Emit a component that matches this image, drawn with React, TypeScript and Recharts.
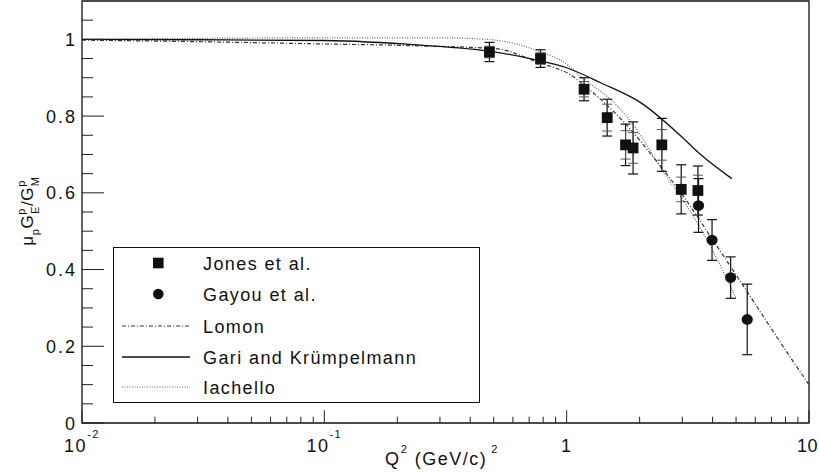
import React from 'react'
import {
  ComposedChart,
  Line,
  Scatter,
  ErrorBar,
  XAxis,
  YAxis,
  ReferenceArea,
} from 'recharts'

const FONT = '"Liberation Sans", Arial, Helvetica, sans-serif'

// Jones et al. (squares)
const jonesQ2 = [0.48, 0.78, 1.18, 1.47, 1.75, 1.88, 2.47, 2.97, 3.48]
const jonesRatio = [0.967, 0.95, 0.87, 0.796, 0.725, 0.717, 0.725, 0.609, 0.606]
const jonesErr = [0.025, 0.023, 0.03, 0.048, 0.054, 0.068, 0.069, 0.064, 0.064]
const jonesStat = [0.015, 0.015, 0.02, 0.035, 0.037, 0.04, 0.04, 0.032, 0.04]

// Gayou et al. (circles)
const gayouQ2 = [3.5, 3.98, 4.75, 5.56]
const gayouRatio = [0.567, 0.477, 0.379, 0.27]
const gayouErr = [0.07, 0.053, 0.054, 0.092]

// model curves
const gariQ2 = [0.01, 0.03, 0.1, 0.25, 0.47, 0.73, 1.0, 1.38, 2.02, 2.96, 3.55, 4.8]
const gariRatio = [1.0, 0.999, 0.997, 0.985, 0.97, 0.948, 0.926, 0.887, 0.835, 0.748, 0.701, 0.637]

const lomonQ2 = [0.01, 0.03, 0.1, 0.25, 0.52, 0.76, 1.04, 1.22, 1.73, 2.38, 3.0, 4.0, 5.15, 6.0, 8.0, 10]
const lomonRatio = [0.998, 0.994, 0.988, 0.983, 0.975, 0.94, 0.907, 0.873, 0.783, 0.678, 0.595, 0.478, 0.374, 0.31, 0.19, 0.1]

const iachelloQ2 = [0.01, 0.1, 0.3, 0.47, 0.6, 0.76, 1.0, 1.14, 1.62, 1.9, 2.52, 3.0, 4.0, 5.0]
const iachelloRatio = [1.0, 1.004, 1.004, 1.0, 0.99, 0.97, 0.935, 0.904, 0.826, 0.774, 0.652, 0.585, 0.45, 0.325]

const xTicks = [
  0.01, 0.02, 0.03, 0.04, 0.05, 0.06, 0.07, 0.08, 0.09,
  0.1, 0.2, 0.3, 0.4, 0.5, 0.6, 0.7, 0.8, 0.9,
  1, 2, 3, 4, 5, 6, 7, 8, 9, 10,
]
const xMajor = [0.01, 0.1, 1, 10]
const xLabels: Record<string, [string, string]> = {
  '0.01': ['10', '-2'],
  '0.1': ['10', '-1'],
  '1': ['1', ''],
  '10': ['10', ''],
}
const yTicks = [
  0, 0.05, 0.1, 0.15, 0.2, 0.25, 0.3, 0.35, 0.4, 0.45, 0.5,
  0.55, 0.6, 0.65, 0.7, 0.75, 0.8, 0.85, 0.9, 0.95, 1, 1.05,
]
const yMajor = [0, 0.2, 0.4, 0.6, 0.8, 1]
const yLabels = ['0', '0.2', '0.4', '0.6', '0.8', '1']

const legendNames = ['Jones et al.', 'Gayou et al.', 'Lomon', 'Gari and Krümpelmann', 'Iachello']

const jones = jonesQ2.map((q, i) => ({ q, r: jonesRatio[i], err: jonesErr[i], stat: jonesStat[i] }))
const gayou = gayouQ2.map((q, i) => ({ q, r: gayouRatio[i], err: gayouErr[i] }))
const gari = gariQ2.map((q, i) => ({ q, r: gariRatio[i] }))
const lomon = lomonQ2.map((q, i) => ({ q, r: lomonRatio[i] }))
const iachello = iachelloQ2.map((q, i) => ({ q, r: iachelloRatio[i] }))

function XTick({ x, y, payload }: any) {
  const v = payload.value
  const major = xMajor.includes(v)
  const lab = xLabels[String(v)]
  // the last label sits against the right edge of the page
  const last = v === 10
  return (
    <g>
      <line x1={x} y1={y} x2={x} y2={y - (major ? 12.7 : 6.3)} stroke="#222" strokeWidth={1} />
      {major && lab && (
        <text
          x={last ? 818 : x}
          y={y + 29}
          textAnchor={last ? 'end' : 'middle'}
          fontSize={18}
          fontFamily={FONT}
          fill="#111"
          letterSpacing={last ? 0.5 : 1.5}
        >
          {lab[0]}
          {lab[1] && (
            <tspan fontSize={11} dy={-14}>
              {lab[1]}
            </tspan>
          )}
        </text>
      )}
    </g>
  )
}

function YTick({ x, y, payload }: any) {
  const v = payload.value
  const idx = yMajor.findIndex((m) => Math.abs(m - v) < 1e-6)
  const major = idx >= 0
  return (
    <g>
      <line x1={x} y1={y} x2={x + (major ? 22 : 11)} y2={y} stroke="#222" strokeWidth={1} />
      {major && (
        <text x={x - 5} y={y + 6.5} textAnchor="end" fontSize={18} fontFamily={FONT} fill="#111" letterSpacing={2}>
          {yLabels[idx]}
        </text>
      )}
    </g>
  )
}

function XTitle() {
  return (
    <text x={442} y={465} textAnchor="middle" fontSize={18} fontFamily={FONT} fill="#111" letterSpacing={1.5}>
      Q
      <tspan fontSize={11} dy={-12}>2</tspan>
      <tspan dy={12}> (GeV/c)</tspan>
      <tspan fontSize={11} dy={-12} dx={4}>2</tspan>
    </text>
  )
}

function YTitle() {
  const cx = 33
  const cy = 211
  return (
    <text
      x={cx}
      y={cy}
      transform={`rotate(-90 ${cx} ${cy})`}
      textAnchor="middle"
      fontSize={17}
      fontFamily={FONT}
      fill="#111"
      letterSpacing={0.6}
    >
      μ
      <tspan fontSize={11} dy={6}>p</tspan>
      <tspan dy={-6}>G</tspan>
      <tspan fontSize={11} dy={-8}>p</tspan>
      <tspan fontSize={11} dy={14} dx={-6}>E</tspan>
      <tspan dy={-6}>/G</tspan>
      <tspan fontSize={11} dy={-8}>p</tspan>
      <tspan fontSize={11} dy={14} dx={-6}>M</tspan>
    </text>
  )
}

function LegendBox() {
  const rows = [16, 47, 79, 110, 140]
  return (
    <g transform="translate(113 247)">
      <rect x={0.5} y={0.5} width={366} height={155} fill="#fff" stroke="#111" strokeWidth={1} />
      <rect x={40} y={rows[0] - 5.3} width={10.6} height={10.6} fill="#111" />
      <circle cx={45.3} cy={rows[1]} r={5.3} fill="#111" />
      <line x1={9} x2={77} y1={rows[2]} y2={rows[2]} stroke="#333" strokeWidth={1.2} strokeDasharray="4 2 1 2" />
      <line x1={9} x2={77} y1={rows[3]} y2={rows[3]} stroke="#111" strokeWidth={1.3} />
      <line x1={9} x2={77} y1={rows[4]} y2={rows[4]} stroke="#666" strokeWidth={1.2} strokeDasharray="1 1.5" />
      {legendNames.map((name, i) => (
        <text key={name} x={90} y={rows[i] + 6.5} fontSize={18} fontFamily={FONT} fill="#111" letterSpacing={1.4}>
          {name}
        </text>
      ))}
    </g>
  )
}

const squareShape = ({ cx, cy }: any) => (
  <rect x={cx - 5.4} y={cy - 5.4} width={10.8} height={10.8} fill="#111" />
)
const circleShape = ({ cx, cy }: any) => <ellipse cx={cx} cy={cy} rx={5.6} ry={5.3} fill="#111" />

export default function App() {
  return (
    <div style={{ position: 'absolute', left: 0, top: 0, width: 819, height: 472, background: '#fff' }}>
      <ComposedChart width={819} height={472} margin={{ top: 1, right: 10, bottom: 48, left: 81 }}>
        <XAxis
          dataKey="q"
          type="number"
          scale="log"
          domain={[0.01, 10]}
          ticks={xTicks}
          interval={0}
          allowDataOverflow
          axisLine={false}
          tickLine={false}
          tickSize={0}
          tickMargin={0}
          height={1}
          tick={<XTick />}
        />
        <YAxis
          type="number"
          domain={[0, 1.1]}
          ticks={yTicks}
          interval={0}
          allowDataOverflow
          axisLine={false}
          tickLine={false}
          tickSize={0}
          tickMargin={0}
          width={1}
          tick={<YTick />}
        />
        <ReferenceArea x1={0.01} x2={10} y1={0} y2={1.1} fill="none" stroke="#111" strokeWidth={1.3} ifOverflow="visible" />
        <LegendBox />
        <Line data={iachello} dataKey="r" type="monotone" stroke="#666" strokeWidth={1.2} strokeDasharray="1 1.5" dot={false} isAnimationActive={false} />
        <Line data={lomon} dataKey="r" type="monotone" stroke="#333" strokeWidth={1.2} strokeDasharray="4 2 1 2" dot={false} isAnimationActive={false} />
        <Line data={gari} dataKey="r" type="monotone" stroke="#111" strokeWidth={1.3} dot={false} isAnimationActive={false} />
        <Scatter data={jones} dataKey="r" shape={squareShape} isAnimationActive={false}>
          <ErrorBar dataKey="err" direction="y" width={5} stroke="#111" strokeWidth={1.2} />
          <ErrorBar dataKey="stat" direction="y" width={5} stroke="#555" strokeWidth={1} />
        </Scatter>
        <Scatter data={gayou} dataKey="r" shape={circleShape} isAnimationActive={false}>
          <ErrorBar dataKey="err" direction="y" width={5} stroke="#111" strokeWidth={1.2} />
        </Scatter>
        <XTitle />
        <YTitle />
      </ComposedChart>
    </div>
  )
}
